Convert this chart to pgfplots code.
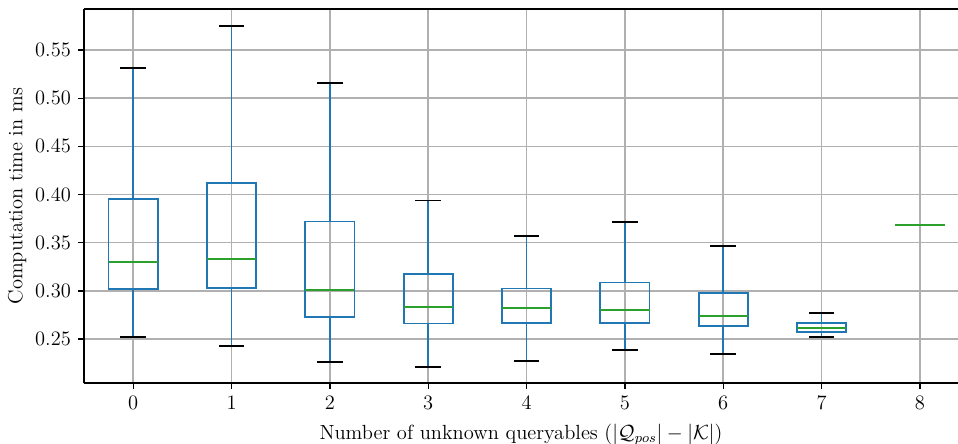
\documentclass[border=0pt,12pt]{standalone}
\usepackage{pgfplots}
\pgfplotsset{compat=1.18}
\usepgfplotslibrary{statistics}
\definecolor{tabblue}{HTML}{1F77B4}
\definecolor{tabgreen}{HTML}{2CA02C}
\definecolor{gridgray}{HTML}{B0B0B0}
\pgfplotsset{
  boxplot/draw/lower whisker/.code={%
    \draw[tabblue, line width=1pt]
      (boxplot cs:\pgfplotsboxplotvalue{lower quartile}) --
      (boxplot cs:\pgfplotsboxplotvalue{lower whisker});
    \draw[black, line width=1pt]
      (boxplot whisker cs:\pgfplotsboxplotvalue{lower whisker},0) --
      (boxplot whisker cs:\pgfplotsboxplotvalue{lower whisker},1);
  },
  boxplot/draw/upper whisker/.code={%
    \draw[tabblue, line width=1pt]
      (boxplot cs:\pgfplotsboxplotvalue{upper quartile}) --
      (boxplot cs:\pgfplotsboxplotvalue{upper whisker});
    \draw[black, line width=1pt]
      (boxplot whisker cs:\pgfplotsboxplotvalue{upper whisker},0) --
      (boxplot whisker cs:\pgfplotsboxplotvalue{upper whisker},1);
  },
}
\begin{document}
\begin{tikzpicture}
\begin{axis}[
  scale only axis, width=511.7pt, height=219.1pt,
  xmin=-0.5, xmax=8.387, ymin=0.2040, ymax=0.5926,
  axis y line*=left,
  axis line style={black, line width=1pt},
  xtick={0,1,2,3,4,5,6,7,8},
  ytick={0.25,0.30,0.35,0.40,0.45,0.50,0.55},
  xtick pos=lower, ytick pos=left,
  tick align=outside,
  major tick length=3.5pt,
  tick style={black, line width=0.8pt},
  xmajorgrids, ymajorgrids,
  grid style={gridgray, line width=0.9pt},
  yticklabel style={/pgf/number format/.cd, fixed, fixed zerofill, precision=2},
  xlabel={Number of unknown queryables ($|\mathcal{Q}_{pos}| - |\mathcal{K}|$)},
  ylabel={Computation time in ms},
  ylabel style={yshift=-3pt},
  boxplot/draw direction=y,
  boxplot/box extend=0.5,
  boxplot/whisker extend=0.26,
  boxplot/every box/.style={tabblue, line width=1pt},
  boxplot/every median/.style={tabgreen, line width=1pt},
]
\addplot[tabblue, boxplot prepared={draw position=0, lower whisker=0.2521, lower quartile=0.3019, median=0.3299, upper quartile=0.3956, upper whisker=0.5313}] coordinates {};
\addplot[tabblue, boxplot prepared={draw position=1, lower whisker=0.2430, lower quartile=0.3026, median=0.3334, upper quartile=0.4116, upper whisker=0.5752}] coordinates {};
\addplot[tabblue, boxplot prepared={draw position=2, lower whisker=0.2258, lower quartile=0.2728, median=0.3008, upper quartile=0.3721, upper whisker=0.5155}] coordinates {};
\addplot[tabblue, boxplot prepared={draw position=3, lower whisker=0.2206, lower quartile=0.2660, median=0.2832, upper quartile=0.3171, upper whisker=0.3939}] coordinates {};
\addplot[tabblue, boxplot prepared={draw position=4, lower whisker=0.2269, lower quartile=0.2663, median=0.2822, upper quartile=0.3023, upper whisker=0.3568}] coordinates {};
\addplot[tabblue, boxplot prepared={draw position=5, lower whisker=0.2383, lower quartile=0.2663, median=0.2801, upper quartile=0.3085, upper whisker=0.3711}] coordinates {};
\addplot[tabblue, boxplot prepared={draw position=6, lower whisker=0.2344, lower quartile=0.2632, median=0.2739, upper quartile=0.2974, upper whisker=0.3465}] coordinates {};
\addplot[tabblue, boxplot prepared={draw position=7, lower whisker=0.2521, lower quartile=0.2573, median=0.2614, upper quartile=0.2666, upper whisker=0.2770}] coordinates {};
\addplot[tabblue, boxplot prepared={draw position=8, lower whisker=0.3683, lower quartile=0.3683, median=0.3683, upper quartile=0.3683, upper whisker=0.3683}] coordinates {};
\end{axis}
\pgfresetboundingbox
\useasboundingbox ([xshift=-49.2pt, yshift=-35.5pt]current axis.south west) rectangle ([yshift=5.3pt]current axis.north east);
\end{tikzpicture}
\end{document}
